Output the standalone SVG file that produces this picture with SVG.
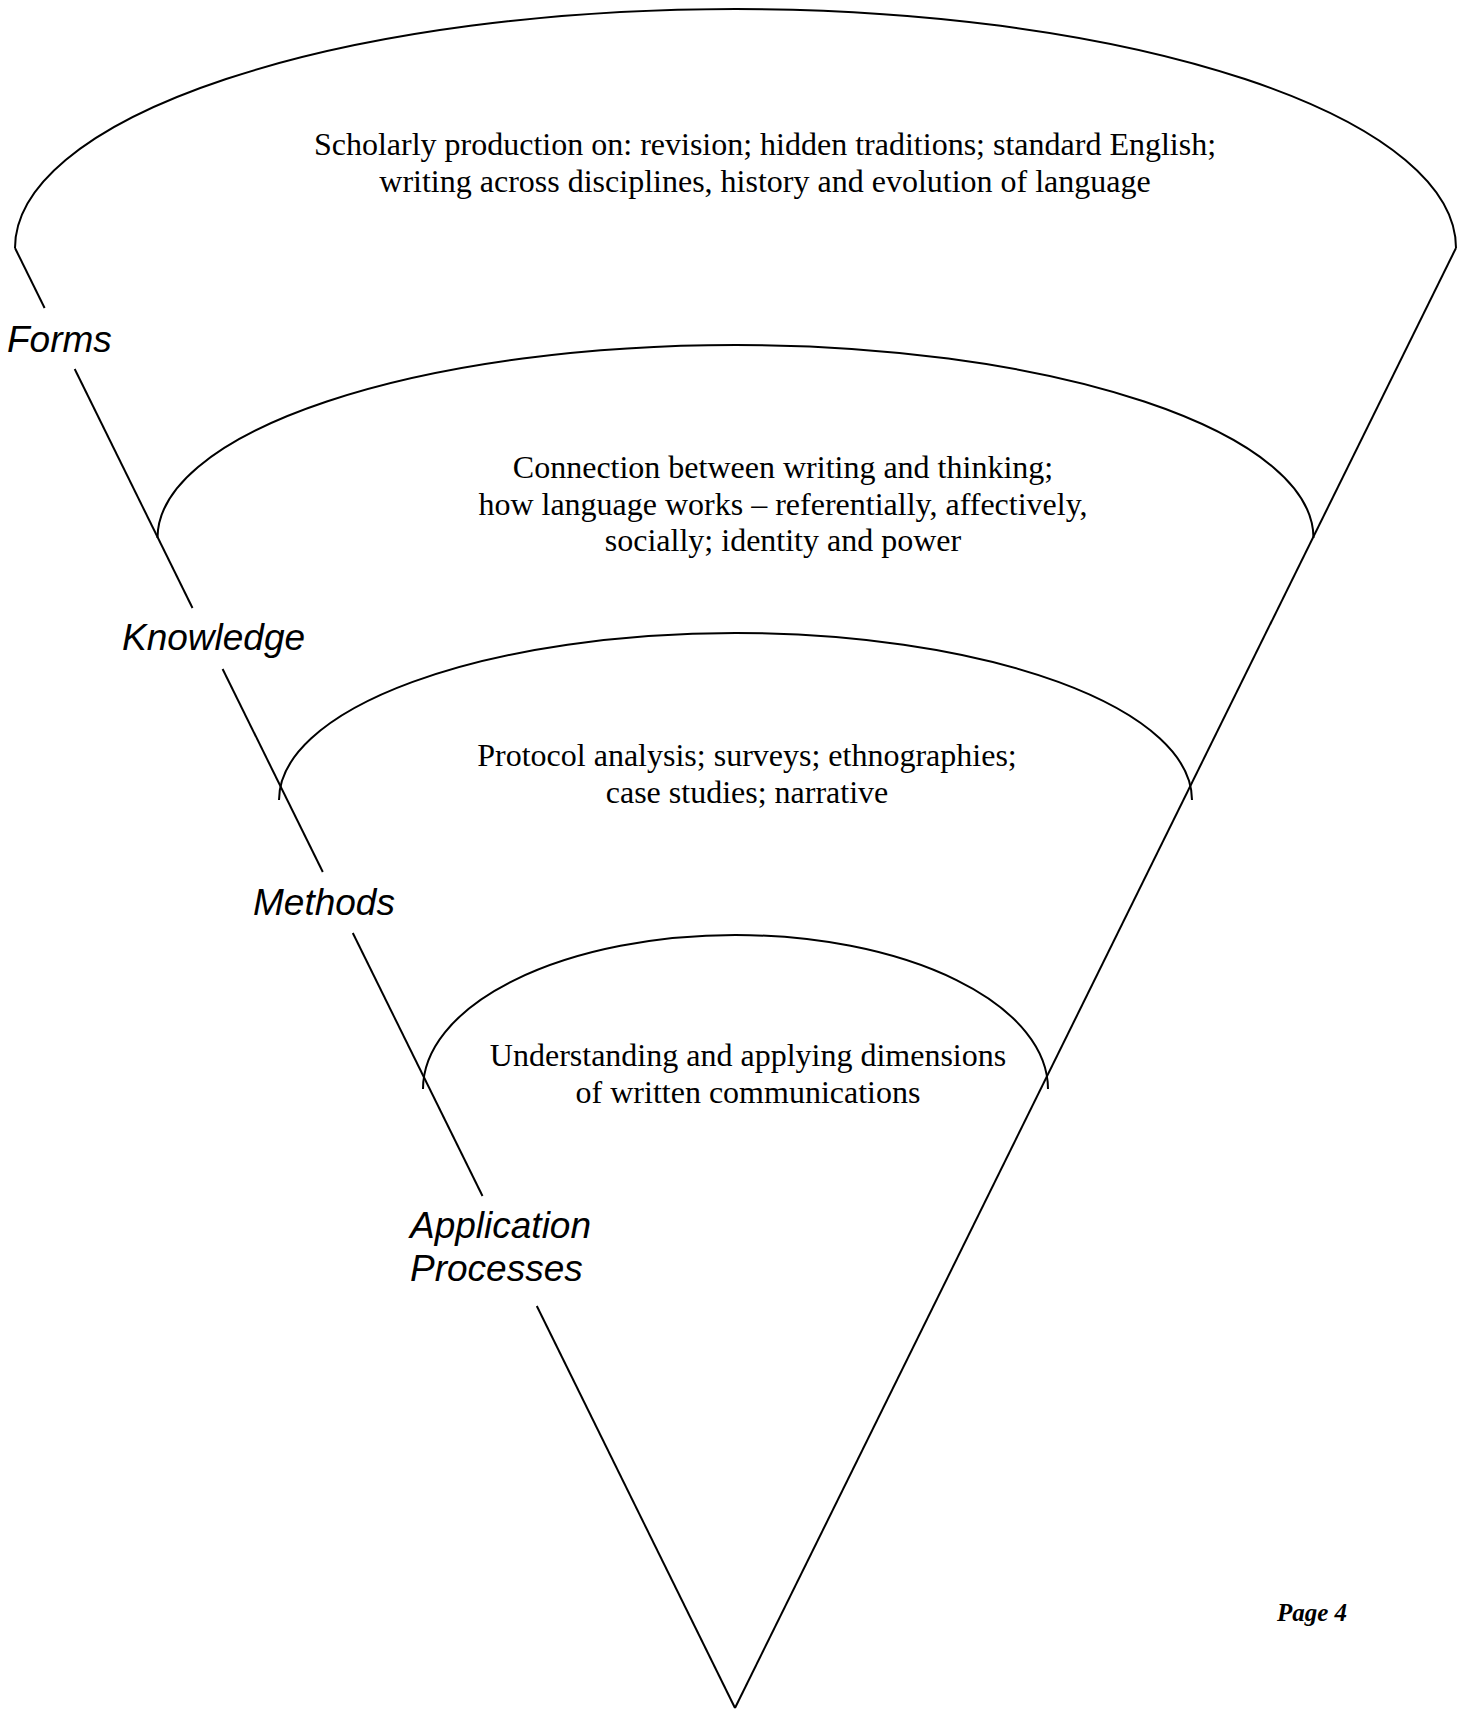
<svg xmlns="http://www.w3.org/2000/svg" width="1464" height="1710" viewBox="0 0 1464 1710">
<style>
.ln{fill:none;stroke:#000;stroke-width:2;stroke-linecap:butt}
.body{font-family:"Liberation Serif","Times New Roman",serif;font-size:32px;fill:#000;text-anchor:middle}
.lab{font-family:"Liberation Sans",Arial,sans-serif;font-style:italic;font-size:37px;fill:#000}
.pg{font-family:"Liberation Serif","Times New Roman",serif;font-style:italic;font-weight:bold;font-size:25px;fill:#000}
</style>
<rect width="1464" height="1710" fill="#fff"/>
<g id="connectors">
<line class="ln" x1="15" y1="248" x2="44.6" y2="308"/>
<line class="ln" x1="74.7" y1="369" x2="192.5" y2="608"/>
<line class="ln" x1="222.6" y1="669" x2="322.8" y2="872"/>
<line class="ln" x1="352.8" y1="933" x2="482.5" y2="1196"/>
<line class="ln" x1="536.8" y1="1306" x2="735" y2="1708"/>
<line class="ln" x1="1456" y1="248" x2="735" y2="1708"/>
</g>
<g id="forms">
<path class="ln" d="M15,248 A720.5,239 0 0 1 1456,248"/>
<text class="body" x="765" y="155">Scholarly production on: revision; hidden traditions; standard English;</text>
<text class="body" x="765" y="192">writing across disciplines, history and evolution of language</text>
<text class="lab" x="7" y="352">Forms</text>
</g>
<g id="knowledge">
<path class="ln" d="M157.5,538 A578,193 0 0 1 1313.5,538"/>
<text class="body" x="783" y="478">Connection between writing and thinking;</text>
<text class="body" x="783" y="514.5">how language works – referentially, affectively,</text>
<text class="body" x="783" y="551">socially; identity and power</text>
<text class="lab" x="122" y="650">Knowledge</text>
</g>
<g id="methods">
<path class="ln" d="M279,800 A456.5,167 0 0 1 1192,800"/>
<text class="body" x="747" y="766">Protocol analysis; surveys; ethnographies;</text>
<text class="body" x="747" y="803">case studies; narrative</text>
<text class="lab" x="253" y="915">Methods</text>
</g>
<g id="application">
<path class="ln" d="M423,1089 A312.5,154 0 0 1 1048,1089"/>
<text class="body" x="748" y="1066">Understanding and applying dimensions</text>
<text class="body" x="748" y="1103">of written communications</text>
<text class="lab" x="410" y="1238">Application</text>
<text class="lab" x="410" y="1281">Processes</text>
</g>
<g id="page">
<text class="pg" x="1277" y="1621">Page 4</text>
</g>
</svg>
